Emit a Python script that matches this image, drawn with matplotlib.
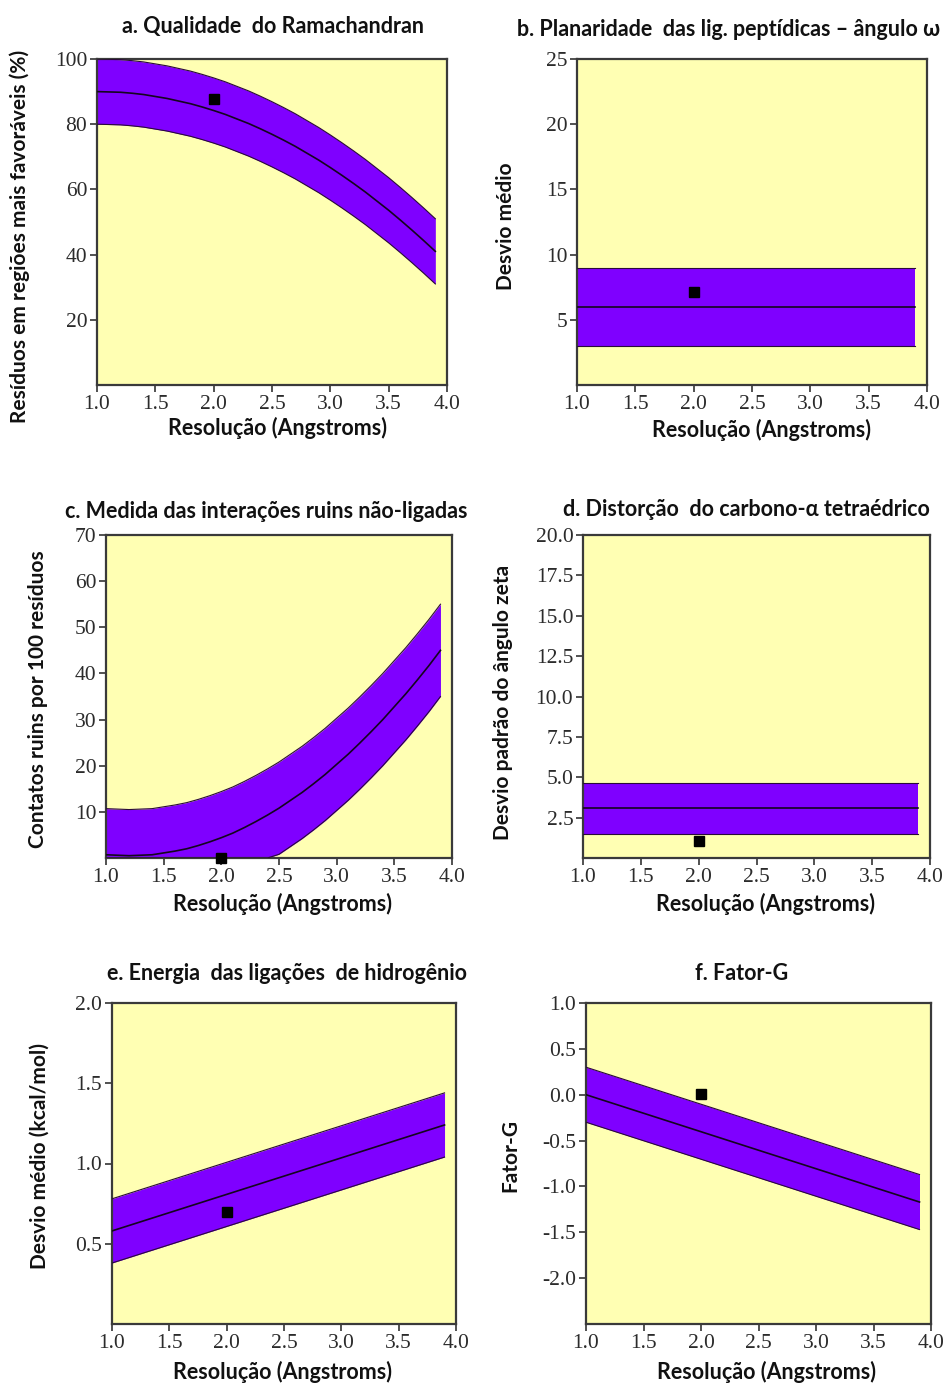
import matplotlib
matplotlib.use("Agg")
import matplotlib.pyplot as plt
import numpy as np

W, H, DPI = 947, 1383, 100

# ---- data -------------------------------------------------------------
res_curve = [1.0, 1.1, 1.2, 1.3, 1.4, 1.5, 1.6, 1.7, 1.8, 1.9,
             2.0, 2.1, 2.2, 2.3, 2.4, 2.5, 2.6, 2.7, 2.8, 2.9,
             3.0, 3.1, 3.2, 3.3, 3.4, 3.5, 3.6, 3.7, 3.8, 3.9]
res_line = [1.0, 3.9]

rama_mean = [90.0, 89.9, 89.8, 89.5, 89.1, 88.5, 87.9, 87.1, 86.3, 85.3,
             84.2, 83.0, 81.6, 80.2, 78.6, 76.9, 75.1, 73.2, 71.1, 69.0,
             66.7, 64.3, 61.8, 59.2, 56.4, 53.6, 50.6, 47.5, 44.3, 41.0]
rama_half = 10.0
rama_point = (2.0, 87.8)

omega_mean = [6.0, 6.0]
omega_half = 3.0
omega_point = (2.0, 7.1)

contacts_mean = [0.7, 0.6, 0.5, 0.6, 0.7, 1.1, 1.5, 2.0, 2.7, 3.5,
                 4.4, 5.4, 6.6, 7.9, 9.3, 10.8, 12.5, 14.2, 16.1, 18.1,
                 20.3, 22.5, 24.9, 27.4, 30.0, 32.8, 35.6, 38.6, 41.7, 45.0]
contacts_half = 10.0
contacts_point = (2.0, 0.0)

zeta_mean = [3.07, 3.07]
zeta_half = 1.6
zeta_point = (2.0, 1.05)

hbond_mean = [0.58, 1.24]
hbond_half = 0.2
hbond_point = (2.0, 0.70)

gfactor_mean = [0.0, -1.17]
gfactor_half = 0.3
gfactor_point = (2.0, 0.01)

x_ticks = [1.0, 1.5, 2.0, 2.5, 3.0, 3.5, 4.0]
x_ticklabels = ["1.0", "1.5", "2.0", "2.5", "3.0", "3.5", "4.0"]

rama_yticks = [20, 40, 60, 80, 100]
omega_yticks = [5, 10, 15, 20, 25]
contacts_yticks = [10, 20, 30, 40, 50, 60, 70]
zeta_yticks = [2.5, 5.0, 7.5, 10.0, 12.5, 15.0, 17.5, 20.0]
hbond_yticks = [0.5, 1.0, 1.5, 2.0]
gfactor_yticks = [-2.0, -1.5, -1.0, -0.5, 0.0, 0.5, 1.0]

titles = [
    "a. Qualidade  do Ramachandran",
    "b. Planaridade  das lig. peptídicas – ângulo ω",
    "c. Medida das interações ruins não-ligadas",
    "d. Distorção  do carbono-α tetraédrico",
    "e. Energia  das ligações  de hidrogênio",
    "f. Fator-G",
]
ylabels = [
    "Resíduos em regiões mais favoráveis (%)",
    "Desvio médio",
    "Contatos ruins por 100 resíduos",
    "Desvio padrão do ângulo zeta",
    "Desvio médio (kcal/mol)",
    "Fator-G",
]
xlabel = "Resolução (Angstroms)"

# ---- style ------------------------------------------------------------
BG = "#FFFFB3"
BAND = "#7F00FF"
EDGE = "#2A0A3A"
TICK_COLOR = "#2b2b2b"
SANS = ["Lato", "DejaVu Sans"]
SERIF = ["Liberation Serif", "DejaVu Serif"]

fig = plt.figure(figsize=(W / DPI, H / DPI), dpi=DPI)
fig.patch.set_facecolor("white")


def px_axes(left, top, right, bottom):
    return fig.add_axes([left / W, 1 - bottom / H, (right - left) / W, (bottom - top) / H])


def ftext(x, y, s, **kw):
    fig.text(x / W, 1 - y / H, s, **kw)


panels = [
    dict(rect=(97, 59, 447, 385), x=res_curve, mean=rama_mean, half=rama_half,
         point=rama_point, ylim=(0, 100), yticks=rama_yticks, fmt="{:.0f}", floor=None),
    dict(rect=(577, 59, 927, 385), x=res_line, mean=omega_mean, half=omega_half,
         point=omega_point, ylim=(0, 25), yticks=omega_yticks, fmt="{:.0f}", floor=None),
    dict(rect=(106, 535, 452, 858), x=res_curve, mean=contacts_mean, half=contacts_half,
         point=contacts_point, ylim=(0, 70), yticks=contacts_yticks, fmt="{:.0f}", floor=0.0),
    dict(rect=(583, 535, 930, 858), x=res_line, mean=zeta_mean, half=zeta_half,
         point=zeta_point, ylim=(0, 20), yticks=zeta_yticks, fmt="{:.1f}", floor=None),
    dict(rect=(112, 1003, 456, 1324), x=res_line, mean=hbond_mean, half=hbond_half,
         point=hbond_point, ylim=(0, 2.0), yticks=hbond_yticks, fmt="{:.1f}", floor=None),
    dict(rect=(586, 1003, 931, 1324), x=res_line, mean=gfactor_mean, half=gfactor_half,
         point=gfactor_point, ylim=(-2.5, 1.0), yticks=gfactor_yticks, fmt="{:.1f}", floor=None),
]

for p in panels:
    ax = px_axes(*p["rect"])
    ax.set_facecolor(BG)
    x = np.asarray(p["x"])
    m = np.asarray(p["mean"])
    up = m + p["half"]
    lo = m - p["half"]
    if p["floor"] is not None:
        lo = np.maximum(lo, p["floor"])
    ax.fill_between(x, lo, up, color=BAND, linewidth=0, zorder=2)
    ax.plot(x, up, color=EDGE, lw=0.8, zorder=3)
    ax.plot(x, lo, color=EDGE, lw=0.8, zorder=3)
    ax.plot(x, m, color="#15051f", lw=1.2, zorder=3)
    ax.plot([p["point"][0]], [p["point"][1]], marker="s", ms=7.5, color="black",
            linestyle="none", zorder=5, clip_on=False)

    ax.set_xlim(1.0, 4.0)
    ax.set_ylim(*p["ylim"])
    ax.set_xticks(x_ticks)
    ax.set_xticklabels(x_ticklabels)
    ax.set_yticks(p["yticks"])
    ax.set_yticklabels([p["fmt"].format(v) for v in p["yticks"]])
    for lab in ax.get_xticklabels() + ax.get_yticklabels():
        lab.set_fontfamily(SERIF)
        lab.set_fontsize(15.5)
        lab.set_color(TICK_COLOR)
    ax.tick_params(direction="out", length=5, width=1.2, color="#333333", pad=2)
    for sp in ax.spines.values():
        sp.set_linewidth(1.6)
        sp.set_color("#3a3a3a")

# ---- titles and axis labels ------------------------------------------
title_kw = dict(fontfamily=SANS, fontweight="bold", fontsize=15.5, color="#111111",
                va="center")
ftext(273, 26, titles[0], ha="center", **title_kw)
ftext(517, 30, titles[1], ha="left", **title_kw)
ftext(266, 511, titles[2], ha="center", **title_kw)
ftext(746, 509, titles[3], ha="center", **title_kw)
ftext(287, 974, titles[4], ha="center", **title_kw)
ftext(742, 974, titles[5], ha="center", **title_kw)

label_kw = dict(fontfamily=SANS, fontweight="bold", fontsize=15.5, color="#111111",
                va="center", ha="center")
for (xc, yc) in [(277, 428), (762, 430), (282, 904), (765, 904), (282, 1372), (766, 1372)]:
    ftext(xc, yc, xlabel, **label_kw)

ylabel_kw = dict(label_kw, fontsize=15)
for s, (xc, yc) in zip(ylabels, [(20, 236), (506, 226), (38, 699), (503, 702),
                                 (40, 1156), (510, 1155)]):
    ftext(xc, yc, s, rotation=90, **ylabel_kw)

fig.savefig("out.png", dpi=DPI, facecolor="white")
